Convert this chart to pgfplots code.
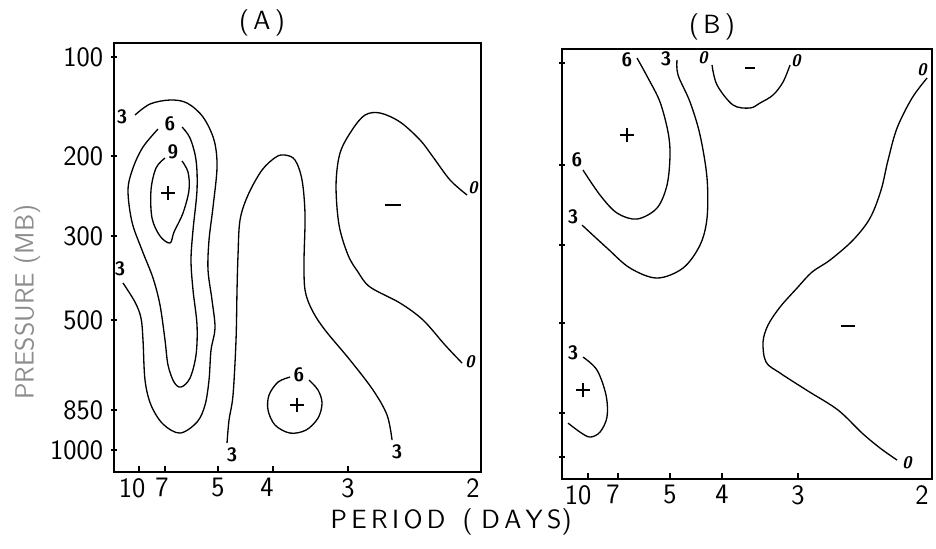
\documentclass[border=0pt]{standalone}
\usepackage{pgfplots}
\pgfplotsset{compat=1.18}

% coordinates of both panels are given in pixels of the original figure
% (x to the right, y downwards); 1 px = 0.02 cm
\newcommand{\sh}[2]{\hspace*{-#1cm}#2}% shift a tick label left by #1/2 cm
\pgfplotsset{
  panel/.style={
    x=0.02cm, y=0.02cm, y dir=reverse,
    anchor=north west, clip=false,
    axis line style={line width=1pt},
    xtick pos=bottom, ytick pos=left,
    xtick align=inside, ytick align=center,
    major tick length=0.12cm,
    tick style={line width=0.8pt, black},
    ticklabel style={font=\sffamily\fontsize{16}{18}\selectfont},
    yticklabel style={xshift=-1pt},
  },
  cont/.style={smooth, tension=0.55, black, line width=0.75pt, mark=none},
  sign/.style={only marks, black, mark options={line width=0.7pt}},
}
\tikzset{
  clab/.style={font=\sffamily\bfseries\fontsize{11}{13}\selectfont, inner sep=0pt},
  zlab/.style={font=\sffamily\bfseries\itshape\fontsize{9.5}{11}\selectfont, inner sep=0pt},
  big/.style={font=\sffamily\fontsize{15}{17}\selectfont},
}

\begin{document}
\begin{tikzpicture}
\useasboundingbox (0,0) rectangle (18.72cm,-10.98cm);

% ---------------- panel A ----------------
\begin{axis}[panel, at={(2.28cm,-0.86cm)},
  xmin=114, xmax=481, ymin=43, ymax=472,
  xtick={139,165,218,273,348,481},
  xticklabels={\sh{0.28}{10},\sh{0.12}{7},5,\sh{0.24}{4},3,\sh{0.32}{2}},
  ytick={57,156,236,320,410,450},
  yticklabels={100,200,300,500,850,1000}]

% 3 (left, U shaped)
\addplot[cont] coordinates {(135,115) (150,104) (170,100) (187,103) (203,117) (214,140) (217,167)
  (213,207) (209,240) (208,270) (212,300) (215,328) (211,350) (209,380) (205,405) (197,422) (180,433)
  (163,424) (151,405) (145,380) (143,340) (141,318) (135,302) (123,283)};
% 6
\addplot[cont] coordinates {(158,129) (143,147) (133,168) (128,190) (132,222) (142,250) (153,278)
  (160,305) (165,340) (168,365) (174,382) (181,387) (190,378) (196,355) (197,325) (193,290)
  (191,260) (193,230) (197,190) (196,160) (190,138) (182,127)};
% 9
\addplot[cont] coordinates {(165,158) (156,168) (151,190) (152,218) (160,236) (170,243) (174,232)
  (183,213) (189,190) (188,172) (182,161)};
% 3 (middle, inverted U)
\addplot[cont] coordinates {(227,443) (229,420) (233,395) (236,340) (237,290) (238,255) (240,220)
  (248,195) (262,170) (276,157) (285,155) (295,160) (302,180) (305,215) (304,260) (305,290)
  (312,310) (325,330) (350,360) (373,390) (387,415) (392,440)};
% 0
\addplot[cont] coordinates {(467,195) (450,180) (433,157) (420,140) (400,122) (380,113) (365,115)
  (352,130) (340,153) (336,185) (339,225) (348,255) (358,272) (370,287) (400,303) (423,320)
  (445,345) (462,363)};
% 6 (closed)
\addplot[cont] coordinates {(290,377) (278,382) (269,395) (268,410) (275,425) (290,433) (306,430)
  (318,418) (322,403) (318,390) (309,380)};

\addplot[sign, mark=+, mark size=4pt] coordinates {(168,193) (297,405)};
\addplot[sign, mark=-, mark size=4.3pt] coordinates {(393,205)};

\node[clab] at (axis cs:122,117) {3};
\node[clab] at (axis cs:170,124) {6};
\node[clab] at (axis cs:173,152) {9};
\node[clab] at (axis cs:120,269) {3};
\node[clab] at (axis cs:232,455) {3};
\node[clab] at (axis cs:397,452) {3};
\node[clab] at (axis cs:299,375) {6};
\node[zlab] at (axis cs:473,188) {0};
\node[zlab] at (axis cs:470,362) {0};

\node[big] at (axis cs:262,23) {(\,A\,)};
\node[big] at (axis cs:451,522) {P\,E\,R\,I\,O\,D\ \ (\ D\,A\,Y\,S)};
\node[big, text=black!45, rotate=90] at (axis cs:27,302) {PRESSURE (MB)};
\end{axis}

% ---------------- panel B ----------------
\begin{axis}[panel, at={(11.24cm,-0.98cm)},
  xmin=562, xmax=932, ymin=49, ymax=479,
  xtick={588,618,670,722,798,932},
  xticklabels={\sh{0.4}{10},\sh{0.2}{7},5,4,3,\sh{0.4}{2}},
  ytick={63,165,245,323,413,457},
  yticklabels={}]

% 6
\addplot[cont] coordinates {(637,58) (648,78) (660,102) (668,132) (670,155) (667,185) (657,208)
  (637,219) (617,213) (600,195) (583,170)};
% 3
\addplot[cont] coordinates {(677,60) (678,75) (690,102) (700,135) (707,178) (707,218) (700,245)
  (683,268) (657,278) (630,268) (607,248) (582,225)};
% 0 (top)
\addplot[cont] coordinates {(712,65) (717,85) (733,105) (750,108) (760,103) (773,95) (783,82) (790,65)};
% 0 (right)
\addplot[cont] coordinates {(927,78) (912,98) (897,128) (888,160) (881,190) (870,218) (853,240)
  (830,260) (812,272) (797,288) (780,307) (768,325) (763,342) (766,362) (780,373) (808,391)
  (838,410) (862,433) (880,448) (897,460)};
% 3 (lower left)
\addplot[cont] coordinates {(583,357) (597,370) (606,395) (607,417) (600,432) (590,437) (580,432) (568,423)};

\addplot[sign, mark=+, mark size=4pt] coordinates {(627,135) (583,390)};
\addplot[sign, mark=-, mark size=4pt] coordinates {(848,326)};
\addplot[sign, mark=-, mark size=2.8pt, mark options={line width=1.2pt}] coordinates {(750,68)};

\node[clab] at (axis cs:627,60) {6};
\node[clab] at (axis cs:666,59) {3};
\node[clab] at (axis cs:577,160) {6};
\node[clab] at (axis cs:573,217) {3};
\node[clab] at (axis cs:573,353) {3};
\node[zlab] at (axis cs:703,58) {0};
\node[zlab] at (axis cs:796,61) {0};
\node[zlab] at (axis cs:922,70) {0};
\node[zlab] at (axis cs:907,463) {0};

\node[big] at (axis cs:712,27) {(\,B\,)};
\end{axis}
\end{tikzpicture}
\end{document}
